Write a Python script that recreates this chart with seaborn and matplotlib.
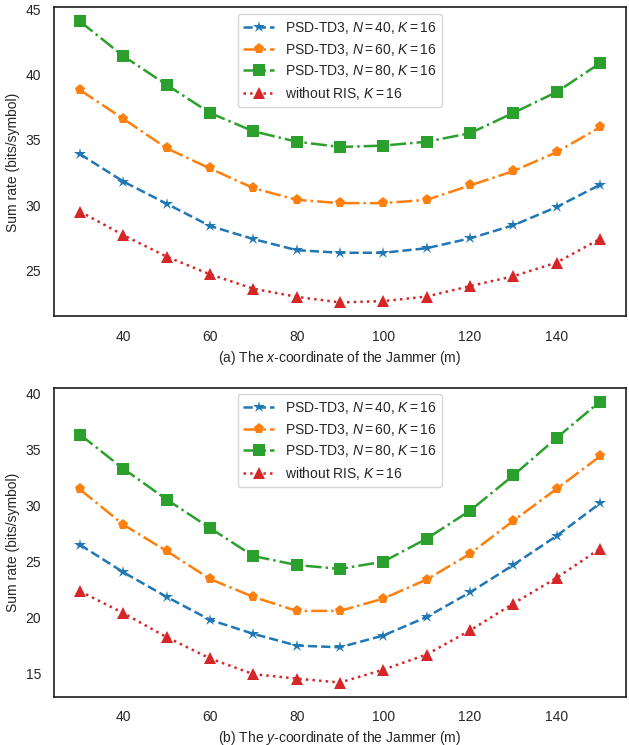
import numpy as np
import pandas as pd
import matplotlib
matplotlib.use("Agg")
import matplotlib.pyplot as plt
import seaborn as sns

# Jammer coordinate (m)
jammer_pos = [30, 40, 50, 60, 70, 80, 90, 100, 110, 120, 130, 140, 150]

# (a) x-coordinate varied
x_n40 = [33.9, 31.8, 30.1, 28.4, 27.4, 26.55, 26.35, 26.35, 26.7, 27.45, 28.45, 29.85, 31.55]
x_n60 = [38.8, 36.6, 34.35, 32.8, 31.3, 30.4, 30.15, 30.15, 30.4, 31.5, 32.6, 34.05, 35.95]
x_n80 = [44.05, 41.4, 39.2, 37.05, 35.65, 34.85, 34.45, 34.55, 34.85, 35.5, 37.05, 38.65, 40.85]
x_noris = [29.5, 27.7, 26.05, 24.7, 23.6, 22.98, 22.55, 22.65, 23.0, 23.8, 24.55, 25.6, 27.4]

# (b) y-coordinate varied
y_n40 = [26.5, 24.05, 21.85, 19.8, 18.55, 17.5, 17.35, 18.4, 20.05, 22.25, 24.7, 27.3, 30.2]
y_n60 = [31.45, 28.3, 25.95, 23.45, 21.85, 20.6, 20.6, 21.7, 23.4, 25.7, 28.65, 31.5, 34.4]
y_n80 = [36.35, 33.3, 30.55, 28.0, 25.5, 24.7, 24.35, 25.0, 27.05, 29.55, 32.7, 36.05, 39.3]
y_noris = [22.35, 20.4, 18.25, 16.35, 14.95, 14.55, 14.2, 15.35, 16.7, 18.85, 21.25, 23.55, 26.15]

labels = [
    r"PSD-TD3, $N=40$, $K=16$",
    r"PSD-TD3, $N=60$, $K=16$",
    r"PSD-TD3, $N=80$, $K=16$",
    r"without RIS, $K=16$",
]

sns.set_theme(style="white")
plt.rcParams["font.family"] = ["Liberation Sans", "DejaVu Sans"]
plt.rcParams["mathtext.fontset"] = "custom"
plt.rcParams["mathtext.rm"] = "Liberation Sans"
plt.rcParams["mathtext.it"] = "Liberation Sans:italic"
plt.rcParams["axes.edgecolor"] = "0.15"

pal = sns.color_palette("tab10")
styles = [
    dict(color=pal[0], linestyle="--", marker="*", markersize=9),
    dict(color=pal[1], linestyle="-.", marker="p", markersize=8),
    dict(color=pal[2], linestyle="-.", marker="s", markersize=8),
    dict(color=pal[3], linestyle=":", marker="^", markersize=8),
]

fig, axes = plt.subplots(2, 1, figsize=(6.29, 7.45), dpi=100)
fig.subplots_adjust(left=0.086, right=0.995, top=0.99, bottom=0.065, hspace=0.23)

panels = [
    (axes[0], [x_n40, x_n60, x_n80, x_noris], r"(a) The $x$-coordinate of the Jammer (m)"),
    (axes[1], [y_n40, y_n60, y_n80, y_noris], r"(b) The $y$-coordinate of the Jammer (m)"),
]

for ax, series, xlabel in panels:
    for vals, lab, st in zip(series, labels, styles):
        df = pd.DataFrame({"pos": jammer_pos, "rate": vals})
        sns.lineplot(data=df, x="pos", y="rate", ax=ax, label=lab, linewidth=1.8,
                     markeredgewidth=0, **st)
    ax.set_xlabel(xlabel, fontsize=10)
    ax.set_ylabel("Sum rate (bits/symbol)", fontsize=10)
    ax.tick_params(labelsize=10, colors="0.15")
    ax.legend(loc="upper center", fontsize=10, frameon=True, handlelength=2.2,
              borderpad=0.4, labelspacing=0.4)

fig.savefig("out.png", dpi=100)
